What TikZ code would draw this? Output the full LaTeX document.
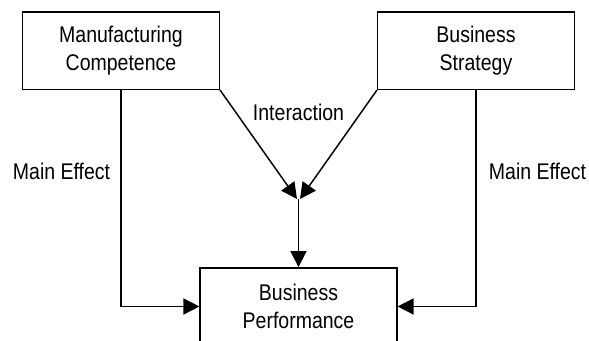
\documentclass[tikz,border=0pt]{standalone}
\usepackage{fontspec}
\setmainfont{Liberation Sans}[FakeStretch=0.86]
\usetikzlibrary{arrows.meta}
\begin{document}
\begin{tikzpicture}[x=0.75pt, y=-0.75pt, line width=1.1pt,
        box/.style = {draw, minimum width=147.5pt, minimum height=58pt, align=center, inner sep=0pt,
                      font=\fontsize{17}{20.5}\selectfont},
        lbl/.style = {anchor=base, inner sep=0pt, font=\fontsize{17}{20.5}\selectfont},
        tip/.style = {-{Triangle[length=12pt, width=12pt]}}]
        \useasboundingbox (0, 0) rectangle (589, 341);
        \node[box] (mc) at (121, 50.7) {Manufacturing\\Competence};
        \node[box] (bs) at (476, 50.7) {Business\\Strategy};
        \node[box] (bp) at (298.5, 306.5) {Business\\Performance};
        \coordinate (jl) at (297, 199);
        \coordinate (jr) at (300, 199);
        \coordinate (j) at (298.5, 199);
        \draw[tip] (mc.south) |- (bp.west);
        \draw[tip] (bs.south) |- (bp.east);
        \draw[tip] (mc.south east) -- (jl);
        \draw[tip] (bs.south west) -- (jr);
        \draw[tip] (j) -- (bp.north);
        \node[lbl] (me1) at (61.5, 180) {Main Effect};
        \node[lbl] (me2) at (537.5, 180) {Main Effect};
        \node[lbl] (ia) at (298.5, 121) {Interaction};
    \end{tikzpicture}
\end{document}
